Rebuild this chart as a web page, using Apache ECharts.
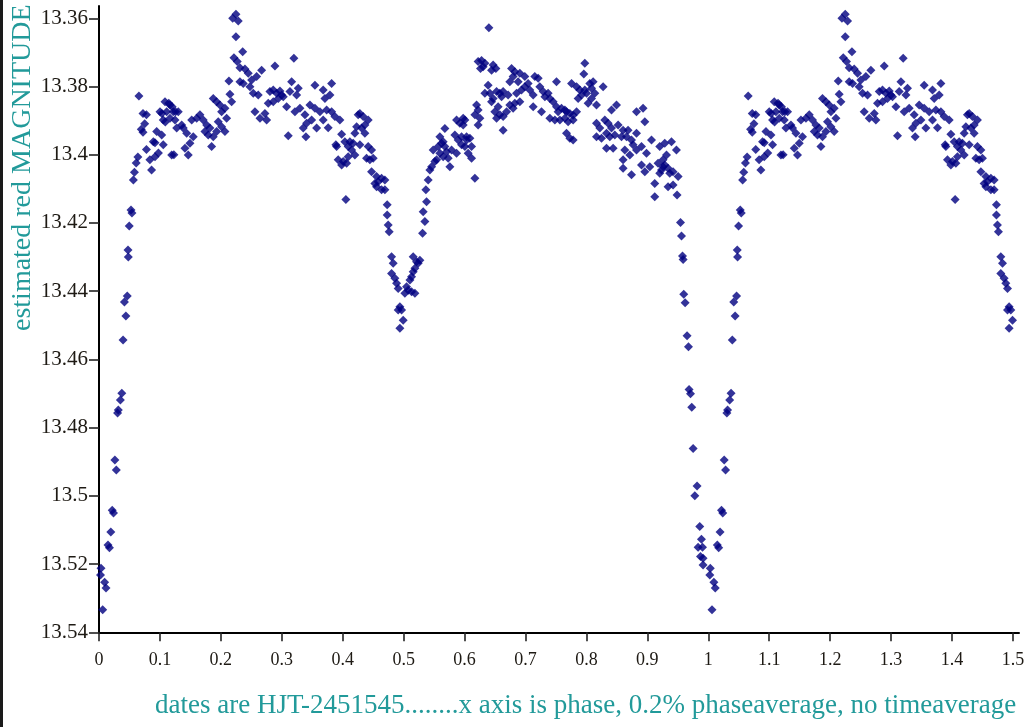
<!DOCTYPE html>
<html>
<head>
<meta charset="utf-8">
<script src="https://cdn.jsdelivr.net/npm/echarts@6/dist/echarts.min.js"></script>
<style>
html,body{margin:0;padding:0;background:#fff;}
#chart{width:1030px;height:727px;}
</style>
</head>
<body>
<div id="chart"></div>
<script>
// phase, estimated red magnitude
const egress = [
[0.0033,13.5212],[0.0025,13.5232],[0.0092,13.5253],[0.0115,13.5270],[0.0061,13.5334],
[0.0148,13.5144],[0.0171,13.5152],[0.0194,13.5106],[0.0217,13.5042],[0.0238,13.5050],
[0.0261,13.4895],[0.0284,13.4924],[0.0305,13.4757],[0.0317,13.4748],[0.0351,13.4719],
[0.0374,13.4699],[0.0395,13.4543],[0.0418,13.4432],[0.0441,13.4473],[0.0464,13.4414],
[0.0476,13.4279],[0.0481,13.4300],[0.0497,13.4209],[0.0525,13.4162],[0.0541,13.4171],
[0.0564,13.4074],[0.0582,13.4051],[0.0610,13.4024],[0.0638,13.4007]
];
const maxI = [
[0.0655,13.3828],[0.0694,13.3925],[0.0722,13.3879],[0.0722,13.3934],[0.0750,13.3909],
[0.0779,13.3883],[0.0779,13.3985],[0.0835,13.4015],[0.0863,13.4045],[0.0891,13.3962],
[0.0919,13.3965],[0.0919,13.4006],[0.0947,13.3932],[0.0976,13.3995],[0.1001,13.3874],
[0.1029,13.3942],[0.1032,13.3879],[0.1055,13.3898],[0.1055,13.3971],[0.1083,13.3845],
[0.1088,13.3904],[0.1111,13.3874],[0.1145,13.3849],[0.1165,13.3854],[0.1165,13.3893],
[0.1193,13.4001],[0.1201,13.3859],[0.1219,13.3874],[0.1229,13.4000],[0.1247,13.3898],
[0.1257,13.3874],[0.1275,13.3922],[0.1301,13.3874],[0.1357,13.3913],[0.1383,13.3922],
[0.1411,13.3981],[0.1439,13.3937],[0.1465,13.4001],[0.1493,13.3966],[0.1521,13.3898],
[0.1547,13.3947],[0.1603,13.3893],[0.1657,13.3883],[0.1711,13.3898],[0.1739,13.3932],
[0.1767,13.3913],[0.1793,13.3942],[0.1821,13.3922],[0.1849,13.3976],[0.1875,13.3947],
[0.1875,13.3835],[0.1931,13.3845],[0.1931,13.3932],[0.1957,13.3903],[0.1985,13.3854],
[0.2013,13.3874],[0.2013,13.3918],[0.2067,13.3864],[0.2067,13.3932],[0.2095,13.3893],
[0.2133,13.3784],[0.2149,13.3823],[0.2177,13.3845],
[0.2194,13.3600],[0.2248,13.3588],[0.2286,13.3608],[0.2248,13.3654],[0.2215,13.3716],
[0.2269,13.3727],[0.2313,13.3745],[0.2313,13.3786],[0.2358,13.3698],[0.2368,13.3791],
[0.2395,13.3749],[0.2450,13.3761],[0.2477,13.3801],[0.2505,13.3781],[0.2532,13.3820],
[0.2559,13.3874],[0.2587,13.3771],[0.2614,13.3825],[0.2642,13.3893],[0.2669,13.3752],
[0.2724,13.3879],[0.2751,13.3898],[0.2778,13.3849],[0.2806,13.3815],[0.2860,13.3810],
[0.2860,13.3845],[0.2888,13.3740],[0.2916,13.3820],[0.2942,13.3835],[0.2970,13.3813],
[0.2998,13.3825],[0.3024,13.3830],[0.3080,13.3859],[0.3106,13.3944],[0.3134,13.3815],
[0.3162,13.3786],[0.3199,13.3717],[0.3216,13.3874],[0.3244,13.3825],[0.3270,13.3805],
[0.3298,13.3864],[0.3352,13.3922],[0.3380,13.3883],[0.3396,13.3947],[0.3408,13.3908],
[0.3462,13.3854],[0.3490,13.3898],[0.3544,13.3796],[0.3544,13.3864],[0.3572,13.3922],
[0.3626,13.3874],[0.3680,13.3810],[0.3680,13.3898],[0.3708,13.3835],[0.3736,13.3869],
[0.3762,13.3921],[0.3790,13.3825],[0.3818,13.3791],[0.3818,13.3874],[0.3872,13.3888],
[0.3888,13.3971],[0.3900,13.3976],[0.3926,13.4015],[0.3954,13.3898],[0.3982,13.3940],
[0.4008,13.4020],[0.3982,13.4030],[0.4036,13.3962],[0.4052,13.4131],[0.4064,13.4025],
[0.4090,13.3976],[0.4090,13.4006],[0.4118,13.3962],[0.4146,13.3986],[0.4172,13.3966],
[0.4200,13.3937],[0.4200,13.4001],[0.4228,13.3918],[0.4254,13.3883],[0.4282,13.3879],
[0.4282,13.3971],[0.4310,13.3922],[0.4336,13.3888],[0.4364,13.3913],[0.4364,13.3937],
[0.4392,13.4010],[0.4418,13.3898],[0.4418,13.3976],[0.4446,13.4015],[0.4474,13.3986],
[0.4474,13.4050],[0.4500,13.4010],[0.4528,13.4084],[0.4556,13.4064],[0.4582,13.4079],
[0.4556,13.4094],[0.4638,13.4069],[0.4638,13.4103],[0.4692,13.4074],[0.4692,13.4103],
[0.4730,13.4147],[0.4730,13.4177],[0.4746,13.4206],[0.4763,13.4226]
];
const secondary = [
[0.4802,13.4299],[0.4829,13.4318],[0.4802,13.4348],[0.4856,13.4362],[0.4884,13.4377],
[0.4911,13.4392],[0.4938,13.4446],[0.4966,13.4455],[0.4911,13.4455],[0.4993,13.4485],
[0.4938,13.4509],[0.5020,13.4406],[0.5048,13.4387],[0.5075,13.4397],[0.5103,13.4367],
[0.5130,13.4402],[0.5130,13.4358],[0.5157,13.4343],[0.5157,13.4299],[0.5185,13.4333],
[0.5185,13.4406],[0.5212,13.4314],[0.5239,13.4318],[0.5267,13.4309],[0.5311,13.4230],
[0.5321,13.4167],[0.5349,13.4196],[0.5365,13.4103],[0.5376,13.4138],[0.5403,13.4074]
];
const maxII = [
[0.5431,13.4045],[0.5459,13.4035],[0.5485,13.3986],[0.5513,13.4020],[0.5541,13.4015],
[0.5567,13.3976],[0.5595,13.3947],[0.5595,13.3996],[0.5623,13.3966],[0.5649,13.4006],
[0.5649,13.3962],[0.5677,13.3923],[0.5677,13.3976],[0.5705,13.3991],[0.5731,13.4010],
[0.5759,13.4035],[0.5787,13.3986],[0.5841,13.3942],[0.5869,13.3898],[0.5869,13.3996],
[0.5895,13.3957],[0.5923,13.3908],[0.5951,13.3971],[0.5951,13.3947],[0.5977,13.3893],
[0.5977,13.3913],[0.6005,13.3898],[0.6005,13.3976],[0.6033,13.3957],[0.6033,13.3947],
[0.6059,13.3996],[0.6087,13.3952],[0.6115,13.3976],[0.6115,13.4010],[0.6169,13.4069],
[0.6169,13.3883],[0.6197,13.3854],[0.6223,13.3869],[0.6251,13.3893],[0.6223,13.3913],
[0.6223,13.3727],[0.6279,13.3724],[0.6333,13.3732],[0.6305,13.3742],[0.6262,13.3747],
[0.6399,13.3628],[0.6469,13.3737],[0.6514,13.3747],[0.6443,13.3752],[0.6387,13.3796],
[0.6333,13.3820],[0.6415,13.3820],[0.6469,13.3835],[0.6443,13.3845],[0.6525,13.3815],
[0.6579,13.3820],[0.6607,13.3830],[0.6633,13.3815],[0.6715,13.3825],[0.6551,13.3859],
[0.6497,13.3874],[0.6579,13.3883],[0.6525,13.3893],[0.6633,13.3888],[0.6633,13.3928],
[0.6689,13.3874],[0.6743,13.3854],[0.6771,13.3747],[0.6797,13.3771],[0.6797,13.3864],
[0.6825,13.3757],[0.6825,13.3849],[0.6743,13.3786],[0.6853,13.3820],[0.6879,13.3786],
[0.6907,13.3761],[0.6907,13.3845],[0.6935,13.3810],[0.6989,13.3771],[0.6989,13.3801],
[0.7043,13.3791],[0.7071,13.3810],[0.7126,13.3825],[0.7126,13.3859],[0.7153,13.3771],
[0.7208,13.3776],[0.7235,13.3801],[0.7263,13.3874],[0.7290,13.3815],[0.7318,13.3830],
[0.7372,13.3820],[0.7400,13.3835],[0.7400,13.3893],[0.7454,13.3845],[0.7482,13.3898],
[0.7509,13.3859],[0.7509,13.3786],[0.7536,13.3874],[0.7564,13.3898],[0.7591,13.3864],
[0.7646,13.3869],[0.7646,13.3893],[0.7673,13.3874],[0.7673,13.3937],[0.7700,13.3903],
[0.7728,13.3879],[0.7728,13.3952],[0.7756,13.3791],[0.7782,13.3884],[0.7782,13.3898],
[0.7782,13.3957],[0.7838,13.3801],[0.7838,13.3874],[0.7864,13.3835],[0.7892,13.3810],
[0.7920,13.3825],[0.7957,13.3763],[0.7974,13.3732],[0.7974,13.3810],[0.8002,13.3820],
[0.8028,13.3849],[0.8056,13.3791],[0.8084,13.3805],[0.8084,13.3835],[0.8110,13.3786],
[0.8138,13.3820],[0.8166,13.3854],[0.8166,13.3908],[0.8166,13.3947],[0.8220,13.3922],
[0.8248,13.3952],[0.8274,13.3801],[0.8302,13.3898],[0.8330,13.3937],[0.8330,13.3981],
[0.8356,13.3908],[0.8384,13.3947],[0.8412,13.3869],[0.8412,13.3922],[0.8438,13.3981],
[0.8466,13.3942],[0.8494,13.3854],[0.8520,13.3913],[0.8576,13.3947],[0.8602,13.3928],
[0.8602,13.4015],[0.8602,13.4040],[0.8630,13.3986],[0.8658,13.3947],[0.8684,13.3928],
[0.8712,13.4001],[0.8740,13.3957],[0.8740,13.4059],[0.8766,13.3971],[0.8822,13.3874],
[0.8822,13.3937],[0.8822,13.3986],[0.8904,13.3976],[0.8904,13.4030],[0.8930,13.3864],
[0.8958,13.3903],[0.8958,13.4050],[0.8986,13.3996],[0.9040,13.4035],[0.9068,13.3957],
[0.9122,13.4084],[0.9122,13.4123],[0.9176,13.4025],[0.9204,13.3976],[0.9204,13.4054],
[0.9232,13.4045],[0.9258,13.4015],[0.9258,13.4035],[0.9286,13.3966],[0.9286,13.4030],
[0.9314,13.4001],[0.9340,13.4040],[0.9340,13.4094],[0.9368,13.4054],[0.9396,13.3962],
[0.9422,13.4050],[0.9422,13.4089],[0.9478,13.3986],[0.9488,13.4118],[0.9505,13.4064]
];
const ingress = [
[0.9544,13.4199],[0.9561,13.4238],[0.9577,13.4297],[0.9587,13.4307],[0.9598,13.4409],
[0.9620,13.4434],[0.9652,13.4531],[0.9675,13.4563],[0.9685,13.4688],[0.9708,13.4701],
[0.9729,13.4740],[0.9751,13.4861],[0.9779,13.5000],[0.9816,13.4971],[0.9860,13.5090],
[0.9888,13.5127],[0.9833,13.5151],[0.9905,13.5151],[0.9872,13.5178],[0.9915,13.5183],
[0.9915,13.5203]
];
const xTicks = [0,0.1,0.2,0.3,0.4,0.5,0.6,0.7,0.8,0.9,1,1.1,1.2,1.3,1.4,1.5];
const yTicks = [13.36,13.38,13.4,13.42,13.44,13.46,13.48,13.5,13.52,13.54];
const yTitle = 'estimated red MAGNITUDE';
const xTitle = 'dates are HJT-2451545........x axis is phase, 0.2% phaseaverage, no timeaverage';

// one cycle, then the first half of the cycle shown again at phase + 1
const cycle = [].concat(egress, maxI, secondary, maxII, ingress);
const points = cycle.concat(cycle.filter(d => d[0] < 0.5).map(d => [d[0] + 1, d[1]]));

const FONT = '"Liberation Serif", "DejaVu Serif", serif';
const fmt = v => String(Math.round(v * 100) / 100);

const chart = echarts.init(document.getElementById('chart'), null, {renderer: 'canvas'});
chart.setOption({
  animation: false,
  backgroundColor: '#fff',
  grid: {left: 99, right: 11, top: 6, bottom: 94.7},
  xAxis: {
    type: 'value', min: 0, max: 1.51,
    axisLine: {onZero: false, lineStyle: {color: '#000', width: 2}},
    axisTick: {customValues: xTicks, length: 9, lineStyle: {color: '#222', width: 1.6}},
    axisLabel: {customValues: xTicks, formatter: fmt, fontFamily: FONT, fontSize: 18, color: '#1e1a14', margin: 19},
    splitLine: {show: false}
  },
  yAxis: {
    type: 'value', inverse: true, min: 13.3564, max: 13.54,
    axisLine: {onZero: false, lineStyle: {color: '#000', width: 2}},
    axisTick: {customValues: yTicks, length: 10, lineStyle: {color: '#222', width: 1.6}},
    axisLabel: {customValues: yTicks, formatter: fmt, fontFamily: FONT, fontSize: 21, color: '#1e1a14', margin: 11},
    splitLine: {show: false}
  },
  series: [{
    type: 'scatter',
    data: points,
    symbol: 'diamond',
    symbolSize: 9,
    itemStyle: {color: '#000080'},
    clip: false
  }],
  graphic: [
    {type: 'rect', left: 0, top: 0, shape: {width: 3, height: 727}, style: {fill: '#1a1a1a'}},
    {type: 'text', x: 23, y: 331, rotation: Math.PI / 2,
     style: {text: yTitle, fontFamily: FONT, fontSize: 28, fill: '#229a9a', textAlign: 'left', textVerticalAlign: 'middle'}},
    {type: 'text', x: 155, y: 706,
     style: {text: xTitle, fontFamily: FONT, fontSize: 27, fill: '#229a9a', textAlign: 'left', textVerticalAlign: 'middle'}}
  ]
});
</script>
</body>
</html>
